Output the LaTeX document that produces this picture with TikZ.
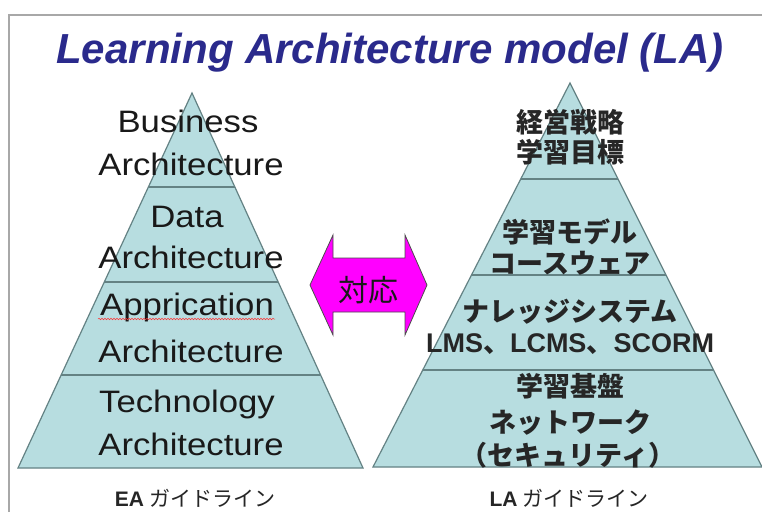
\documentclass[tikz,border=0pt]{standalone}
\usepackage{fontspec}
\setmainfont{Liberation Sans}
\newfontfamily\archfont[FakeStretch=1.12]{Liberation Sans}
\newfontfamily\jpfont{Noto Sans CJK JP}
\usetikzlibrary{calc,decorations.pathmorphing}
\definecolor{pyrfill}{RGB}{183,221,224}
\definecolor{pyredge}{RGB}{100,130,132}
\definecolor{titleblue}{RGB}{42,42,140}
\definecolor{framegray}{RGB}{168,168,168}
\definecolor{arrowmag}{RGB}{255,0,255}
\tikzset{
  pyr/.style={fill=pyrfill, draw=pyredge, line width=1.2pt, line join=miter},
  divider/.style={draw=pyredge, line width=2pt},
  archtxt/.style={anchor=base, inner sep=0pt, font=\archfont\fontsize{31}{34}\selectfont, text=black!90},
  jptxt/.style={anchor=base, inner sep=0pt, font=\jpfont\bfseries\fontsize{27}{30}\selectfont, text=black!85},
  captxt/.style={anchor=base, inner sep=0pt, text=black!85},
  arrowshape/.style={fill=arrowmag, draw=black!70, line width=0.8pt, line join=miter}
}
\begin{document}
\begin{tikzpicture}[x=1pt,y=-1pt]
\useasboundingbox (0,0) rectangle (762,512);
\fill[white] (0,0) rectangle (762,512);
% frame
\draw[framegray, line width=2pt] (9,512) -- (9,15) -- (762,15);
% title
\node[anchor=base, inner sep=0pt, text=titleblue,
      font=\bfseries\itshape\fontsize{42}{46}\selectfont] (title) at (390,63)
  {Learning Architecture model (LA)};

% ---------- left pyramid ----------
\coordinate (LA) at (192,93);
\coordinate (LL) at (18,468);
\coordinate (LR) at (363,468);
\draw[pyr] (LA) -- (LL) -- (LR) -- cycle;
\foreach \t/\n in {0.2507/1,0.504/2,0.752/3}{
  \coordinate (Ll\n) at ($(LA)!\t!(LL)$);
  \coordinate (Lr\n) at ($(LA)!\t!(LR)$);
  \draw[divider] (Ll\n) -- (Lr\n);
}
\node[archtxt] (b1) at (188,132) {Business};
\node[archtxt] (b2) at (191,175) {Architecture};
\node[archtxt] (d1) at (187,227) {Data};
\node[archtxt] (d2) at (191,268) {Architecture};
\node[archtxt] (a1) at (187,315) {Apprication};
\node[archtxt] (a2) at (191,362) {Architecture};
\node[archtxt] (t1) at (187,412) {Technology};
\node[archtxt] (t2) at (191,455) {Architecture};
\coordinate (sqA) at (98,319);
\coordinate (sqB) at (275,319);
\draw[red!80, line width=0.5pt, decorate,
      decoration={snake, amplitude=0.8pt, segment length=3pt}] (sqA) -- (sqB);

% ---------- right pyramid ----------
\coordinate (RA) at (570,83);
\coordinate (RL) at (373,467);
\coordinate (RR) at (762,467);
\draw[pyr] (RA) -- (RL) -- (RR) -- cycle;
\foreach \t/\n in {0.25/1,0.5/2,0.747/3}{
  \coordinate (Rl\n) at ($(RA)!\t!(RL)$);
  \coordinate (Rr\n) at ($(RA)!\t!(RR)$);
  \draw[divider] (Rl\n) -- (Rr\n);
}
\node[jptxt] (j1) at (570,132) {経営戦略};
\node[jptxt] (j2) at (570,162) {学習目標};
\node[jptxt] (j3) at (570,242) {学習モデル};
\node[jptxt] (j4) at (570,273) {コースウェア};
\node[jptxt] (j5) at (570,321) {ナレッジシステム};
\node[jptxt, font=\bfseries\fontsize{27}{30}\selectfont] (j6) at (570,352)
  {LMS{\jpfont、}LCMS{\jpfont、}SCORM};
\node[jptxt] (j7) at (570,396) {学習基盤};
\node[jptxt] (j8) at (570,432) {ネットワーク};
\node[jptxt] (j9) at (568,465) {（セキュリティ）};

% ---------- double arrow ----------
\draw[arrowshape] (310,285) -- (333,235) -- (333,258) -- (405,258) -- (405,235)
  -- (427,285) -- (405,335) -- (405,312) -- (333,312) -- (333,335) -- cycle;
\node[inner sep=0pt, text=black!90, font=\jpfont\fontsize{30}{32}\selectfont] (taiou) at (368,290) {対応};

% ---------- captions ----------
\node[captxt] (ea) at (195,506)
  {{\bfseries\fontsize{21}{24}\selectfont EA}\hspace{5pt}{\jpfont\fontsize{21}{24}\selectfont ガイドライン}};
\node[captxt] (la) at (569,506)
  {{\bfseries\fontsize{21}{24}\selectfont LA}\hspace{5pt}{\jpfont\fontsize{21}{24}\selectfont ガイドライン}};
\end{tikzpicture}
\end{document}
